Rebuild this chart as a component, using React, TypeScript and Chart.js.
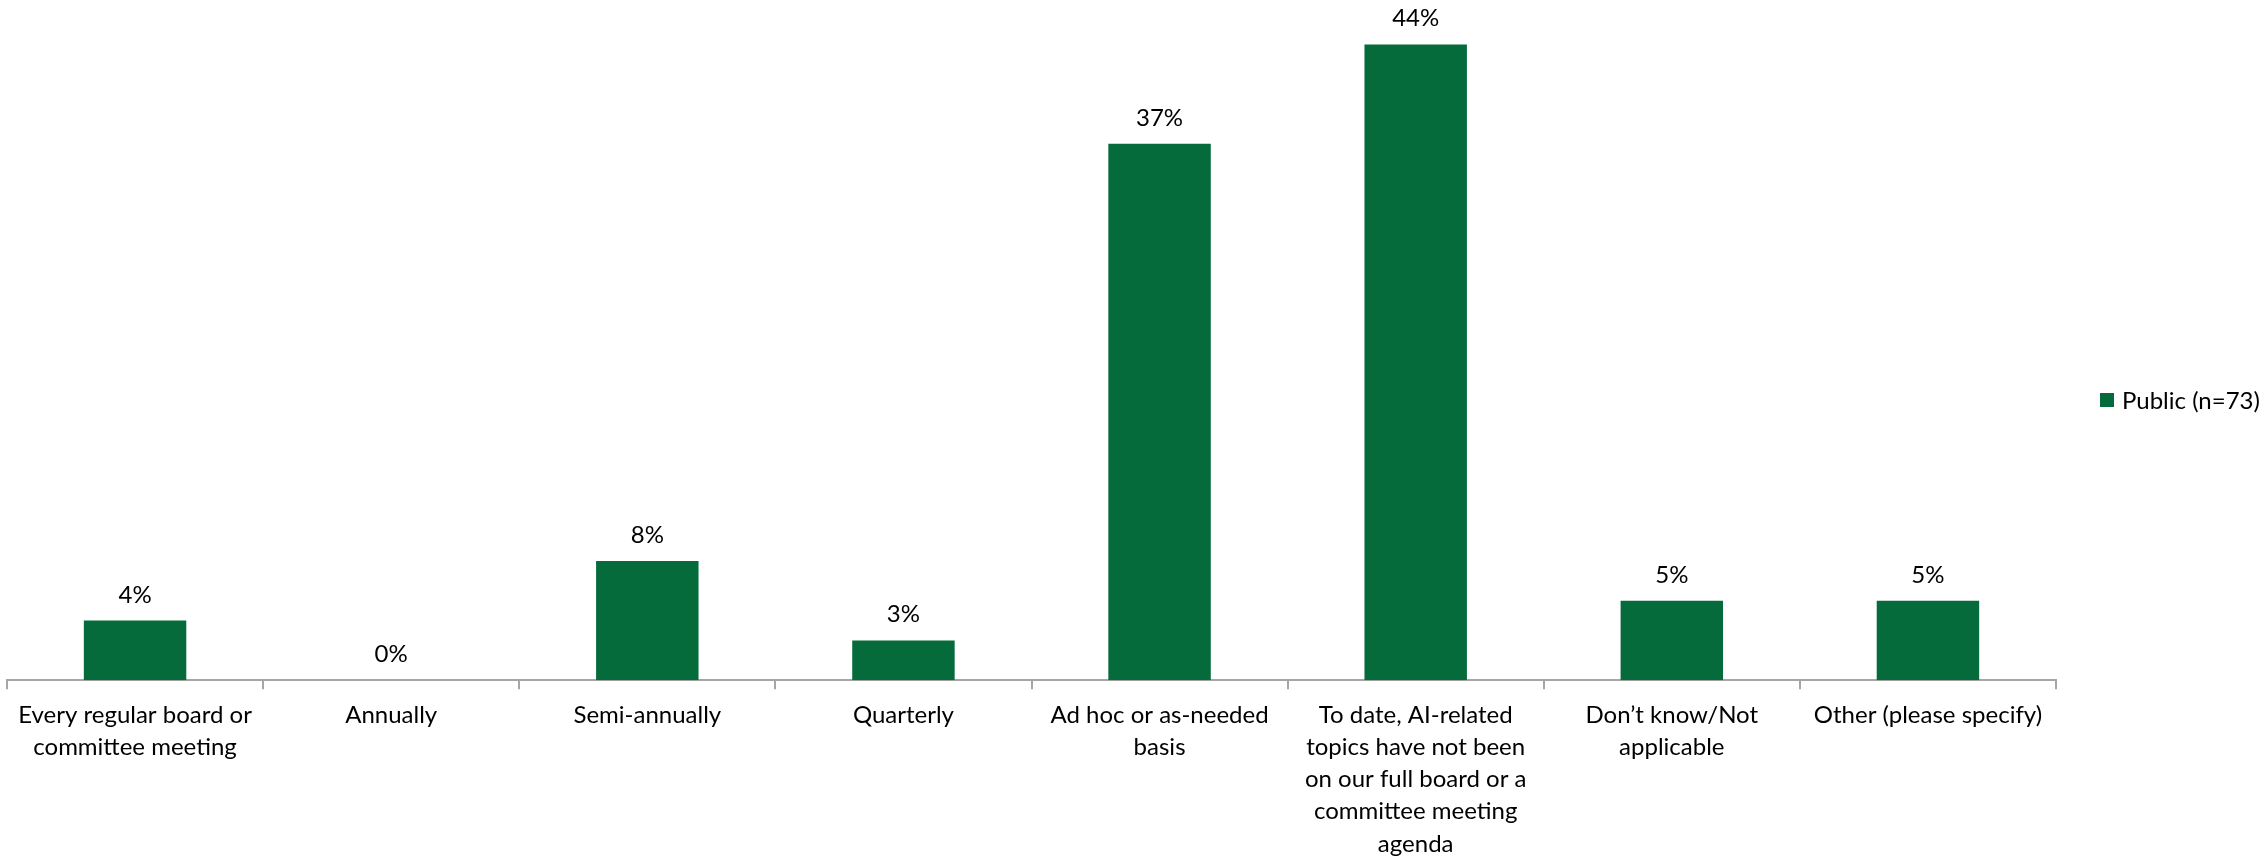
import React, { useEffect, useRef } from "react";
import { Chart, registerables } from "chart.js";

Chart.register(...registerables);

const categories: string[][] = [
  ["Every regular board or", "committee meeting"],
  ["Annually"],
  ["Semi-annually"],
  ["Quarterly"],
  ["Ad hoc or as-needed", "basis"],
  ["To date, AI-related", "topics have not been", "on our full board or a", "committee meeting", "agenda"],
  ["Don\u2019t know/Not", "applicable"],
  ["Other (please specify)"],
];
const seriesName = "Public (n=73)";
const values = [4.11, 0, 8.22, 2.74, 36.99, 43.84, 5.48, 5.48];

const GREEN = "#066b3a";
const FONT = "Lato, 'Open Sans', sans-serif";

export default function App() {
  const ref = useRef<HTMLCanvasElement | null>(null);
  useEffect(() => {
    const canvas = ref.current!;
    const valueLabels = {
      id: "valueLabels",
      afterDatasetsDraw(chart: any) {
        const ctx = chart.ctx;
        const meta = chart.getDatasetMeta(0);
        ctx.save();
        ctx.fillStyle = "#000";
        ctx.font = `24px ${FONT}`;
        ctx.textAlign = "center";
        ctx.textBaseline = "alphabetic";
        meta.data.forEach((bar: any, i: number) => {
          ctx.fillText(Math.round(values[i]) + "%", bar.x, bar.y - 18);
        });
        ctx.restore();
      },
    };
    const legendPlugin = {
      id: "customLegend",
      afterDraw(chart: any) {
        const ctx = chart.ctx;
        ctx.save();
        ctx.fillStyle = GREEN;
        ctx.fillRect(2100, 393, 14, 14);
        ctx.fillStyle = "#000";
        ctx.font = `24px ${FONT}`;
        ctx.textAlign = "left";
        ctx.textBaseline = "middle";
        ctx.fillText(seriesName, 2122, 401);
        ctx.restore();
      },
    };
    const chart = new Chart(canvas, {
      type: "bar",
      data: {
        labels: categories,
        datasets: [
          {
            label: seriesName,
            data: values,
            backgroundColor: GREEN,
            categoryPercentage: 1,
            barPercentage: 0.4,
          },
        ],
      },
      options: {
        animation: false,
        responsive: false,
        devicePixelRatio: 1,
        layout: { padding: { left: 7, right: 206, top: 0, bottom: -12 } },
        plugins: { legend: { display: false }, tooltip: { enabled: false } },
        scales: {
          x: {
            offset: true,
            grid: {
              display: true,
              offset: true,
              drawOnChartArea: false,
              drawTicks: true,
              tickLength: 9,
              color: "#a6a6a6",
              lineWidth: 2,
            },
            border: { display: true, color: "#a6a6a6", width: 2 },
            ticks: {
              color: "#000",
              padding: 10,
              maxRotation: 0,
              autoSkip: false,
              font: { family: FONT, size: 24, lineHeight: 1.34 },
            },
          },
          y: { display: false, min: 0, max: 46.9 },
        },
      },
      plugins: [valueLabels, legendPlugin],
    });
    return () => chart.destroy();
  }, []);
  return (
    <div style={{ position: "fixed", left: 0, top: 0, width: 2262, height: 858, background: "#fff" }}>
      <canvas ref={ref} width={2262} height={858} style={{ display: "block" }} />
    </div>
  );
}
